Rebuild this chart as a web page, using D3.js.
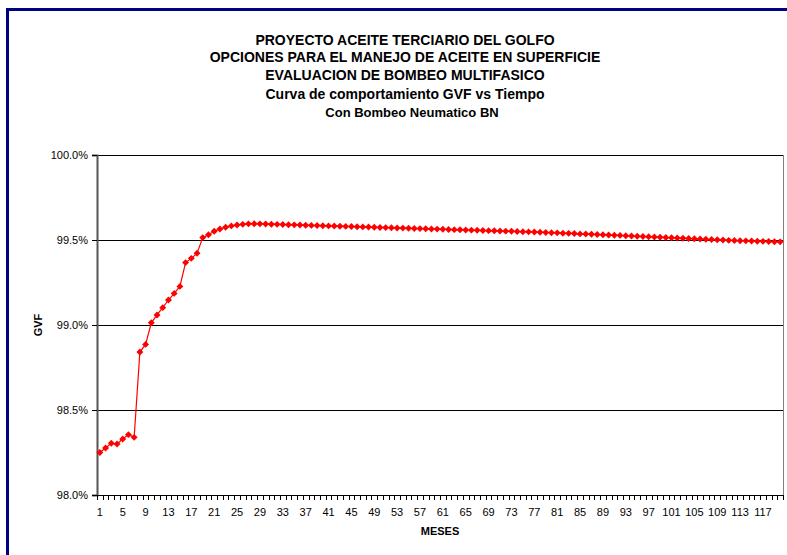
<!DOCTYPE html>
<html><head><meta charset="utf-8">
<script src="https://cdn.jsdelivr.net/npm/d3@7"></script>
<style>body{margin:0;background:#fff;}svg{display:block;font-family:"Liberation Sans",Arial,sans-serif;}</style>
</head><body>
<svg id="c" width="787" height="555"></svg>
<script>
const titleLines = ["PROYECTO ACEITE TERCIARIO DEL GOLFO","OPCIONES PARA EL MANEJO DE ACEITE EN SUPERFICIE","EVALUACION DE BOMBEO MULTIFASICO","Curva de comportamiento GVF vs Tiempo","Con Bombeo Neumatico BN"];
const months = d3.range(1, 121);
const gvf = [
98.250,98.276,98.304,98.300,98.329,98.355,98.339,98.841,98.886,99.013,
99.059,99.102,99.147,99.186,99.227,99.367,99.392,99.422,99.514,99.531,
99.551,99.565,99.575,99.583,99.588,99.592,99.595,99.596,99.595,99.594,
99.593,99.592,99.591,99.590,99.589,99.588,99.587,99.586,99.585,99.584,
99.583,99.582,99.581,99.580,99.579,99.578,99.577,99.576,99.575,99.574,
99.573,99.572,99.571,99.570,99.569,99.568,99.567,99.566,99.565,99.564,
99.563,99.562,99.561,99.560,99.559,99.558,99.557,99.556,99.555,99.554,
99.553,99.552,99.551,99.550,99.549,99.548,99.547,99.546,99.544,99.543,
99.542,99.540,99.539,99.538,99.536,99.535,99.534,99.532,99.531,99.529,
99.528,99.527,99.525,99.524,99.522,99.521,99.519,99.518,99.516,99.515,
99.513,99.512,99.510,99.509,99.507,99.506,99.504,99.503,99.501,99.500,
99.498,99.497,99.496,99.495,99.494,99.493,99.492,99.491,99.490,99.489];
const yTicks = [98.0, 98.5, 99.0, 99.5, 100.0];
const xLabelMonths = d3.range(1, 121, 4);
const xTitle = "MESES", yTitle = "GVF";

const svg = d3.select("#c");
// outer navy border (top & left)
svg.append("rect").attr("x",6).attr("y",8).attr("width",781).attr("height",3).attr("fill","#000080");
svg.append("rect").attr("x",6).attr("y",8).attr("width",3).attr("height",547).attr("fill","#000080");

const L=97, R=783, T=155, B=495;
const x = d3.scaleBand().domain(months).range([L,R]).padding(0);
const y = d3.scaleLinear().domain([98,100]).range([B,T]);

// title
svg.append("g").selectAll("text").data(titleLines).join("text")
  .attr("x",(d,i)=>i<4?405:412).attr("y",(d,i)=>[45,62,80,99,117][i])
  .attr("text-anchor","middle").attr("font-weight","bold")
  .attr("font-size",(d,i)=>i<4?14:13).text(d=>d);

// gridlines
svg.append("g").selectAll("line").data(yTicks.slice(1)).join("line")
  .attr("x1",L).attr("x2",R).attr("y1",d=>y(d)).attr("y2",d=>y(d))
  .attr("stroke","#000").attr("stroke-width",1).attr("shape-rendering","crispEdges");
// right plot border
svg.append("line").attr("x1",R+0.5).attr("x2",R+0.5).attr("y1",T).attr("y2",B).attr("stroke","#808080");

// y axis
const yAxis = d3.axisLeft(y).tickValues(yTicks).tickSize(5).tickPadding(4).tickFormat(d=>d.toFixed(1)+"%");
const gy = svg.append("g").attr("transform",`translate(${L},0)`).call(yAxis);
gy.select(".domain").attr("stroke","#555").attr("stroke-width",2);
gy.selectAll(".tick line").attr("stroke","#000");
gy.selectAll("text").attr("font-size",11).attr("font-family","Liberation Sans, Arial, sans-serif").attr("fill","#000");

// x axis
const gx = svg.append("g").attr("transform",`translate(0,${B})`);
gx.append("line").attr("x1",L).attr("x2",R).attr("y1",0.5).attr("y2",0.5).attr("stroke","#000");
gx.selectAll("line.t").data(months.concat([121])).join("line").attr("class","t")
  .attr("x1",d=>Math.round(d<=120?x(d):R)+0.5).attr("x2",d=>Math.round(d<=120?x(d):R)+0.5)
  .attr("y1",0).attr("y2",5).attr("stroke","#000");
gx.selectAll("text").data(xLabelMonths).join("text")
  .attr("x",d=>x(d)+x.bandwidth()/2).attr("y",21).attr("text-anchor","middle")
  .attr("font-size",11).text(d=>d);

// axis titles
svg.append("text").attr("x",440).attr("y",535).attr("text-anchor","middle").attr("font-weight","bold").attr("font-size",11).text(xTitle);
svg.append("text").attr("transform","translate(42,325) rotate(-90)").attr("text-anchor","middle").attr("font-weight","bold").attr("font-size",11).text(yTitle);

// line + markers
const cx = d => x(d)+x.bandwidth()/2;
svg.append("path").datum(months).attr("fill","none").attr("stroke","#ff0000").attr("stroke-width",1.2)
  .attr("d", d3.line().x(m=>cx(m)).y((m,i)=>y(gvf[i])));
svg.append("g").selectAll("path").data(months).join("path")
  .attr("transform",(m,i)=>`translate(${cx(m)},${y(gvf[i])}) rotate(45)`)
  .attr("d", d3.symbol().type(d3.symbolSquare).size(24)).attr("fill","#ff0000");
</script>
</body></html>
